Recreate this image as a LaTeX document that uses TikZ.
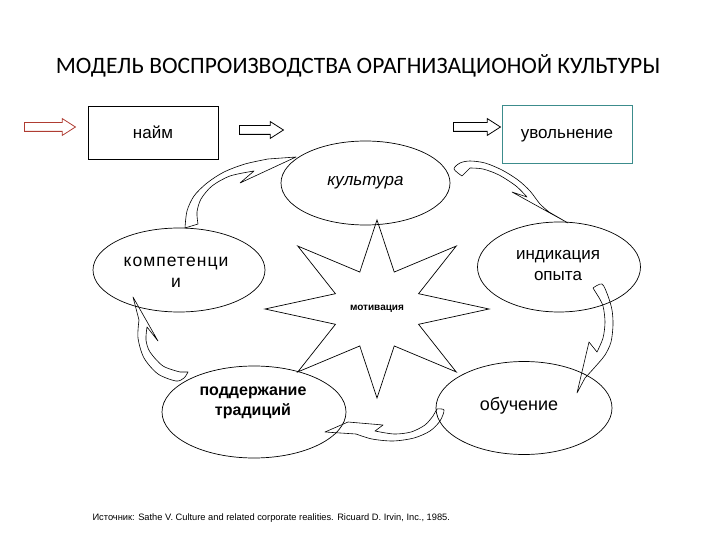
\documentclass[tikz,border=0pt]{standalone}
\usepackage{fontspec}
\setmainfont{Liberation Sans}
\newfontfamily\titlefont{Carlito}
\usetikzlibrary{shapes.geometric,shapes.arrows}
\definecolor{tealb}{RGB}{60,140,140}
\definecolor{arrred}{RGB}{175,60,50}
\begin{document}
\begin{tikzpicture}[x=1pt,y=-1pt,
  ell/.style={draw,ellipse,line width=0.7pt,inner sep=0pt},
  boxn/.style={draw,line width=0.8pt,inner sep=0pt},
  carrow/.style={draw,line width=0.6pt,line join=round},
  blk/.style={single arrow,draw,line width=0.8pt,inner xsep=0pt,inner ysep=4pt,
    minimum width=16pt,single arrow head extend=4pt,single arrow tip angle=65,
    single arrow head indent=0pt},
  lbl/.style={font=\fontsize{17}{21}\selectfont,align=center}]
\useasboundingbox (0,0) rectangle (720,540);

% title
\node[font=\titlefont\fontsize{23.5}{28}\selectfont] (title) at (358,66)
  {МОДЕЛЬ ВОСПРОИЗВОДСТВА ОРАГНИЗАЦИОНОЙ КУЛЬТУРЫ};

% boxes
\node[boxn,lbl,minimum width=130pt,minimum height=53pt] (hire) at (153,132.5) {найм};
\node[boxn,draw=tealb,minimum width=130pt,minimum height=58pt] (fire) at (567,134) {};
\node[lbl] (firet) at (567,136) {увольнение};

% straight block arrows
\node[blk,draw=arrred,minimum height=51pt] (a1) at (46.5,127) {};
\node[blk,minimum height=44pt] (a2) at (258,130) {};
\node[blk,minimum height=47pt] (a3) at (473.5,127) {};

% ellipses
\node[ell,lbl,minimum width=169pt,minimum height=84pt,font=\fontsize{17}{21}\selectfont\itshape] (cult) at (365.5,183) {культура};
\node[ell,minimum width=172pt,minimum height=84pt] (comp) at (179,270) {};
\node[lbl,font=\fontsize{17.5}{21}\selectfont\addfontfeature{LetterSpace=6}] (compt) at (176,272) {компетенци\\и};
\node[ell,minimum width=163pt,minimum height=90pt] (ind) at (559,267) {};
\node[lbl] (indt) at (558,266) {индикация\\опыта};
\node[ell,minimum width=184pt,minimum height=92pt] (trad) at (254,412) {};
\node[lbl,font=\fontsize{16}{20}\selectfont\bfseries] (tradt) at (253,403) {поддержание\\традиций};
\node[ell,minimum width=176pt,minimum height=93pt] (learn) at (524,408) {};
\node[font=\fontsize{18}{21}\selectfont] (learnt) at (519,406) {обучение};

% star
\draw[line width=0.7pt,line join=miter] (489,309)
  \foreach \a in {22.5,67.5,...,337.5} {
    -- ({377+45*cos(\a)},{309+40*sin(\a)})
    -- ({377+112*cos(\a+22.5)},{309+89*sin(\a+22.5)}) } -- cycle;
\node[font=\fontsize{10}{12}\selectfont\bfseries] (mot) at (377,309) {мотивация};

% curved arrows
% competence -> culture
\draw[carrow] plot[smooth] coordinates {(185,228) (187,211) (194,196) (207,183) (224,172) (245,164) (268,159)}
  -- (296,157) -- (240,183)
  -- plot[smooth] coordinates {(254,171) (230,176) (212,186) (201,199) (197,212) (198,224)} -- cycle;
% culture -> indication
\draw[carrow] plot[smooth] coordinates {(462,176) (454,169) (460,163) (470,161) (485,163) (502,170) (518,180) (530,191) (540,204) (549,212)}
  -- (568,223) -- (512,192)
  -- plot[smooth] coordinates {(527,197) (516,186) (499,175) (483,169) (470,168)} -- cycle;
% indication -> learning
\draw[carrow] plot[smooth] coordinates {(593,288) (602,284) (608,296) (612,310) (613,325) (611,342) (605,355) (595,367) (585,378)}
  -- (577,393) -- (589,342)
  -- plot[smooth] coordinates {(597,352) (603,338) (605,322) (603,306) (598,296)} -- cycle;
% learning -> traditions
\draw[carrow] plot[smooth] coordinates {(437,409) (444,410) (440,421) (430,431) (414,438) (393,441) (372,439) (356,434)}
  -- (325,432) -- (348,422) -- (383,425)
  -- plot[smooth] coordinates {(375,431) (394,434) (411,432) (425,425) (433,416)} -- cycle;
% traditions -> competence
\draw[carrow] plot[smooth] coordinates {(188,372) (184,378) (176,381) (158,374) (144,358) (138,338) (139,320)}
  -- (133,297) -- (158,341)
  -- plot[smooth] coordinates {(147,327) (146,340) (150,352) (163,366) (180,372)} -- cycle;

% source
\node[font=\fontsize{9.3}{11}\selectfont,anchor=west] (src) at (89,518)
  {Источник: Sathe V. Culture and related corporate realities. Ricuard D. Irvin, Inc., 1985.};
\end{tikzpicture}
\end{document}
